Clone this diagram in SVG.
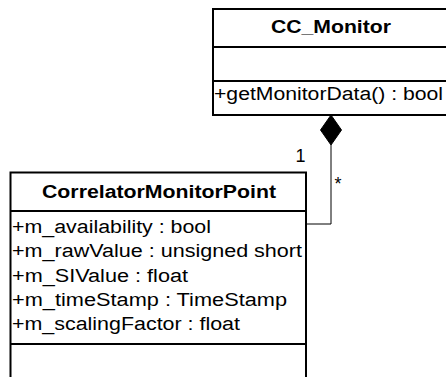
<svg xmlns="http://www.w3.org/2000/svg" width="446" height="377" viewBox="0 0 446 377">
<style>
.box{fill:#fff;stroke:#000;stroke-width:2}
.div{stroke:#000;stroke-width:2}
.t{font-family:"Liberation Sans",Arial,sans-serif;font-size:18px;fill:#000}
.b{font-weight:bold}
.c{fill:none;stroke:#000;stroke-width:1}
</style>
<rect width="446" height="377" fill="#fff"/>
<g id="CC_Monitor">
<rect class="box" x="213" y="9" width="245" height="106"/>
<line class="div" x1="213" y1="47" x2="446" y2="47"/>
<line class="div" x1="213" y1="81" x2="446" y2="81"/>
<text class="t b" x="331" y="33" text-anchor="middle" textLength="120" lengthAdjust="spacingAndGlyphs">CC_Monitor</text>
<text class="t" x="214" y="100" textLength="229" lengthAdjust="spacingAndGlyphs">+getMonitorData() : bool</text>
</g>
<g id="CorrelatorMonitorPoint">
<rect class="box" x="10.5" y="172.5" width="295.5" height="220"/>
<line class="div" x1="10.5" y1="211" x2="306" y2="211"/>
<line class="div" x1="10.5" y1="344" x2="306" y2="344"/>
<text class="t b" x="159" y="198" text-anchor="middle" textLength="234" lengthAdjust="spacingAndGlyphs">CorrelatorMonitorPoint</text>
<text class="t" x="12" y="233" textLength="199" lengthAdjust="spacingAndGlyphs">+m_availability : bool</text>
<text class="t" x="12" y="257.3" textLength="290" lengthAdjust="spacingAndGlyphs">+m_rawValue : unsigned short</text>
<text class="t" x="12" y="281.7" textLength="176" lengthAdjust="spacingAndGlyphs">+m_SIValue : float</text>
<text class="t" x="12" y="306" textLength="275" lengthAdjust="spacingAndGlyphs">+m_timeStamp : TimeStamp</text>
<text class="t" x="12" y="330" textLength="228" lengthAdjust="spacingAndGlyphs">+m_scalingFactor : float</text>
</g>
<g id="connectors">
<polyline class="c" points="306,224 331,224 331,145"/>
<polygon points="331,115 341.5,130 331,145 320.5,130" fill="#000" stroke="#000" stroke-width="1"/>
<text class="t" x="300.5" y="161.5" text-anchor="middle">1</text>
<text class="t" x="338" y="190" text-anchor="middle">*</text>
</g>
</svg>
